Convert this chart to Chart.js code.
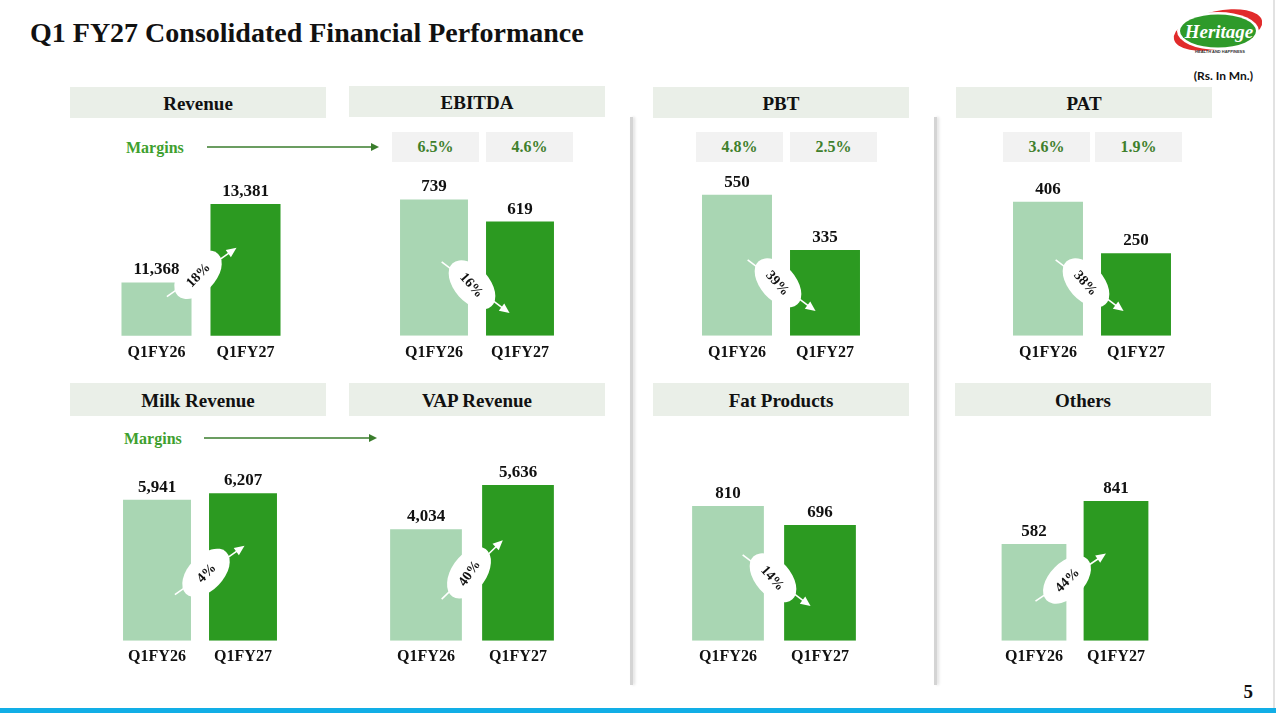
<!DOCTYPE html>
<html>
<head>
<meta charset="utf-8">
<script src="https://cdn.jsdelivr.net/npm/chart.js@4.4.1/dist/chart.umd.min.js"></script>
<style>
  body { margin: 0; background: #fff; }
  #slide { position: relative; width: 1276px; height: 713px; overflow: hidden; background: #fff; font-family: "Liberation Serif", serif; }
  .abs { position: absolute; }
  .title { left: 30px; top: 17px; font-size: 28px; font-weight: bold; color: #111; white-space: nowrap; }
  .head { background: #EAEFE8; font-size: 19px; font-weight: bold; color: #111; display: flex; align-items: center; justify-content: center; padding-top: 3px; box-sizing: border-box; }
  .margin { background: #F2F2F2; font-size: 16px; font-weight: bold; color: #3F7F2C; display: flex; align-items: center; justify-content: center; }
  .mlabel { font-size: 16px; font-weight: bold; color: #3EA02E; }
  .sep { width: 3px; background: #D4D4D4; box-shadow: 2px 0 3px rgba(0,0,0,0.12); }
  canvas { position: absolute; }
</style>
</head>
<body>
<div id="slide">
  <div class="abs title">Q1 FY27 Consolidated Financial Performance</div>
  <svg class="abs" style="left:0;top:0" width="1276" height="713">
    <!-- logo -->
    <ellipse cx="1218" cy="30" rx="45" ry="19" fill="#E12B2B" transform="rotate(-12 1218 30)"/>
    <ellipse cx="1218" cy="31" rx="41" ry="19" fill="#fff"/>
    <ellipse cx="1218" cy="31" rx="38" ry="16.5" fill="#2E9A2A"/>
    <text x="1219" y="38" text-anchor="middle" font-family="Liberation Serif" font-style="italic" font-weight="bold" font-size="19" fill="#fff">Heritage</text>
    <text x="1220" y="53" text-anchor="middle" font-family="Liberation Sans" font-weight="bold" font-size="4" fill="#333">HEALTH AND HAPPINESS</text>
    <text x="1253" y="80" text-anchor="end" font-family="Lato" font-weight="bold" font-size="12" fill="#111">(Rs. In Mn.)</text>
    <!-- margin arrows -->
    <line x1="207" y1="147" x2="372" y2="147" stroke="#3A7D2C" stroke-width="1.5"/>
    <path d="M379,147 L371,143 L371,151 Z" fill="#3A7D2C"/>
    <line x1="204" y1="438" x2="370" y2="438" stroke="#3A7D2C" stroke-width="1.5"/>
    <path d="M377,438 L369,434 L369,442 Z" fill="#3A7D2C"/>
    <!-- bottom strip and page number -->
    <rect x="0" y="708" width="1276" height="5" fill="#12AEE6"/>
    <line x1="1274" y1="0" x2="1274" y2="708" stroke="#D9D9D9" stroke-width="1.5"/>
    <text x="1253" y="698" text-anchor="end" font-family="Liberation Serif" font-weight="bold" font-size="19" fill="#111">5</text>
  </svg>
  <div class="abs sep" style="left:630px;top:117px;height:568px"></div>
  <div class="abs sep" style="left:934px;top:117px;height:568px"></div>
  <div class="abs mlabel" style="left:126px;top:139px">Margins</div>
  <div class="abs mlabel" style="left:124px;top:430px">Margins</div>
</div>
<script>
// values in Rs. Mn.
const periods = ['Q1FY26', 'Q1FY27'];
const panelTitles = ['Revenue', 'EBITDA', 'PBT', 'PAT', 'Milk Revenue', 'VAP Revenue', 'Fat Products', 'Others'];
const revenue = [11368, 13381];
const ebitda = [739, 619];
const pbt = [550, 335];
const pat = [406, 250];
const milkRevenue = [5941, 6207];
const vapRevenue = [4034, 5636];
const fatProducts = [810, 696];
const others = [582, 841];
const growthLabels = ['18%', '16%', '39%', '38%', '4%', '40%', '14%', '44%'];
const ebitdaMargin = ['6.5%', '4.6%'];
const pbtMargin = ['4.8%', '2.5%'];
const patMargin = ['3.6%', '1.9%'];

const series = [revenue, ebitda, pbt, pat, milkRevenue, vapRevenue, fatProducts, others];
const margins = [null, ebitdaMargin, pbtMargin, patMargin, null, null, null, null];

const FONT = '"Liberation Serif", serif';
const LIGHT = '#A9D6B3';
const DARK = '#2C9A21';

// layout of each panel: header box, margin boxes, canvas box, axis range, badge placement
const layout = [
  { head: [70, 87, 256, 31], mbox: null, cv: [112, 160, 178, 209], pad: 7, min: 10000, max: 14508, lift: 61, dx: -3, tilt: 35 },
  { head: [349, 86, 256, 31], mbox: [[392, 132], [486, 132]], cv: [391, 160, 172, 209], pad: 7, min: 0, max: 953, lift: 51, dx: -5, tilt: 37 },
  { head: [653, 87, 256, 31], mbox: [[696, 132], [790, 132]], cv: [693, 160, 176, 209], pad: 7, min: 0, max: 686, lift: 53, dx: -3, tilt: 37 },
  { head: [956, 87, 256, 31], mbox: [[1003, 132], [1095, 132]], cv: [1004, 160, 176, 209], pad: 7, min: 0, max: 532, lift: 53, dx: -6, tilt: 37 },
  { head: [70, 383, 256, 33], mbox: null, cv: [114, 460, 172, 212], pad: 6, min: 0, max: 7610, lift: 68, dx: 6, tilt: 35 },
  { head: [349, 383, 256, 33], mbox: null, cv: [380, 460, 184, 212], pad: 6, min: 0, max: 6537, lift: 68, dx: -3, tilt: 44 },
  { head: [653, 383, 256, 33], mbox: null, cv: [682, 460, 184, 212], pad: 6, min: 0, max: 1087, lift: 63, dx: -1, tilt: 37 },
  { head: [955, 383, 256, 33], mbox: null, cv: [993, 460, 164, 212], pad: 6, min: 0, max: 1088, lift: 61, dx: -8, tilt: 34 }
];
const barFrac = [0.787, 0.79, 0.795, 0.795, 0.79, 0.78, 0.78, 0.79];

const valueLabels = {
  id: 'valueLabels',
  afterDatasetsDraw(chart) {
    const ctx = chart.ctx;
    const data = chart.data.datasets[0].data;
    ctx.save();
    ctx.font = 'bold 17px ' + FONT;
    ctx.fillStyle = '#111';
    ctx.textAlign = 'center';
    ctx.textBaseline = 'middle';
    chart.getDatasetMeta(0).data.forEach((bar, i) => {
      ctx.fillText(data[i].toLocaleString('en-US'), bar.x, bar.y - 12.5);
    });
    ctx.restore();
  }
};

const badge = {
  id: 'badge',
  afterDatasetsDraw(chart, args, opts) {
    const ctx = chart.ctx;
    const [b1, b2] = chart.getDatasetMeta(0).data;
    const cx = (b1.x + b1.width / 2 + b2.x - b2.width / 2) / 2 + opts.dx;
    const cy = chart.chartArea.bottom - opts.lift;
    const sign = opts.up ? -1 : 1;
    const ang = sign * opts.tilt * Math.PI / 180;
    const ovalAng = sign * (opts.tilt + 11) * Math.PI / 180;
    ctx.save();
    ctx.translate(cx, cy);
    ctx.save();
    ctx.rotate(ang);
    ctx.strokeStyle = '#fff';
    ctx.fillStyle = '#fff';
    ctx.lineWidth = 1.6;
    ctx.beginPath();
    ctx.moveTo(-38, 0);
    ctx.lineTo(39, 0);
    ctx.stroke();
    ctx.beginPath();
    ctx.moveTo(47, 0);
    ctx.lineTo(37, -4.5);
    ctx.lineTo(37, 4.5);
    ctx.closePath();
    ctx.fill();
    ctx.restore();
    ctx.rotate(ovalAng);
    ctx.fillStyle = '#fff';
    ctx.beginPath();
    ctx.ellipse(0, 0, 29, 17.5, 0, 0, Math.PI * 2);
    ctx.fill();
    ctx.fillStyle = '#111';
    ctx.font = 'bold 14px ' + FONT;
    ctx.textAlign = 'center';
    ctx.textBaseline = 'middle';
    ctx.fillText(opts.text, 0, 1);
    ctx.restore();
  }
};

const slide = document.getElementById('slide');

layout.forEach((L, i) => {
  const h = document.createElement('div');
  h.className = 'abs head';
  h.style.cssText = `left:${L.head[0]}px;top:${L.head[1]}px;width:${L.head[2]}px;height:${L.head[3]}px`;
  h.textContent = panelTitles[i];
  slide.appendChild(h);

  if (L.mbox) {
    L.mbox.forEach((m, j) => {
      const b = document.createElement('div');
      b.className = 'abs margin';
      b.style.cssText = `left:${m[0]}px;top:${m[1]}px;width:87px;height:30px`;
      b.textContent = margins[i][j];
      slide.appendChild(b);
    });
  }

  const cv = document.createElement('canvas');
  cv.width = L.cv[2];
  cv.height = L.cv[3];
  cv.style.cssText = `left:${L.cv[0]}px;top:${L.cv[1]}px;width:${L.cv[2]}px;height:${L.cv[3]}px`;
  slide.appendChild(cv);

  const vals = series[i];
  new Chart(cv.getContext('2d'), {
    type: 'bar',
    data: {
      labels: periods,
      datasets: [{
        data: vals,
        backgroundColor: [LIGHT, DARK],
        borderWidth: 0,
        categoryPercentage: 1,
        barPercentage: barFrac[i]
      }]
    },
    options: {
      responsive: false,
      animation: false,
      layout: { padding: 0 },
      plugins: {
        legend: { display: false },
        tooltip: { enabled: false },
        badge: { text: growthLabels[i], up: vals[1] > vals[0], lift: L.lift, dx: L.dx, tilt: L.tilt }
      },
      scales: {
        x: {
          grid: { display: false, drawTicks: false },
          border: { display: false },
          ticks: { padding: L.pad, color: '#111', maxRotation: 0, autoSkip: false, font: { family: FONT, size: 16, weight: 'bold' } }
        },
        y: { display: false, min: L.min, max: L.max }
      }
    },
    plugins: [valueLabels, badge]
  });
});
</script>
</body>
</html>
